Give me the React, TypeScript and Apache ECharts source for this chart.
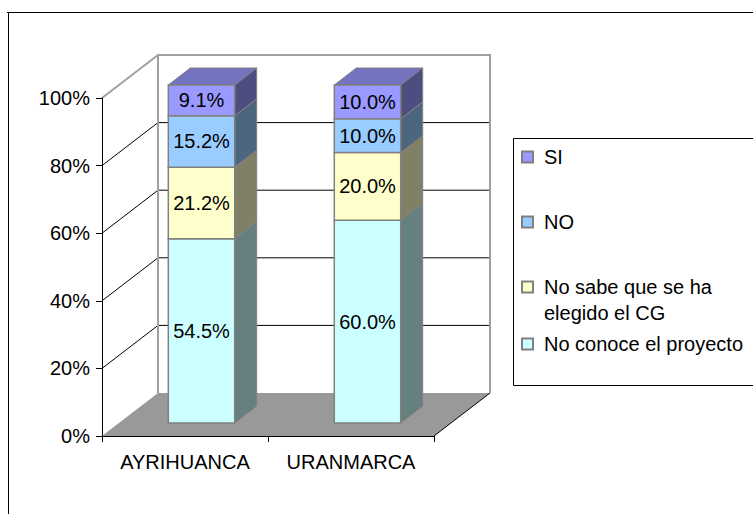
import React, { useEffect, useRef } from 'react';
import * as echarts from 'echarts';

// ---- data ----
const categories = ['AYRIHUANCA', 'URANMARCA'];
const noConoce = [54.5, 60.0];
const noSabe = [21.2, 20.0];
const noValues = [15.2, 10.0];
const siValues = [9.1, 10.0];
const yTicks = [0, 20, 40, 60, 80, 100];

const seriesNames = ['No conoce el proyecto', 'No sabe que se ha elegido el CG', 'NO', 'SI'];
const seriesValues = [noConoce, noSabe, noValues, siValues];

// ---- styles ----
const FONT = '"Liberation Sans", Arial, sans-serif';
const DEPTH: [number, number] = [56, -43];
const BAR_OFF: [number, number] = [16.5, -13];
const BAR_DEPTH: [number, number] = [22, -17];
const BAR_RATIO = 0.4;
const faceColors = [
  { front: '#CCFFFF', side: '#668080', top: '#99BFBF' },
  { front: '#FFFFCC', side: '#808066', top: '#BFBF99' },
  { front: '#99CCFF', side: '#4D6680', top: '#7399BF' },
  { front: '#9999FF', side: '#4D4D80', top: '#7373BF' },
];
const EDGE = '#808080';

export default function App() {
  const ref = useRef<HTMLDivElement>(null);

  useEffect(() => {
    if (!ref.current) return;
    const chart = echarts.init(ref.current, null, { renderer: 'svg' });

    const wallRender = (params: any, api: any) => {
      const cs = params.coordSys;
      const gx = cs.x;
      const gw = cs.width;
      const [dx, dy] = DEPTH;
      const yb = api.coord([0, 0])[1];
      const yt = api.coord([0, 100])[1];
      const children: any[] = [];
      children.push({
        type: 'polygon',
        shape: { points: [[gx, yb], [gx + gw, yb], [gx + gw + dx, yb + dy], [gx + dx, yb + dy]] },
        style: { fill: '#999999', stroke: null },
      });
      children.push({
        type: 'line',
        shape: { x1: gx + gw, y1: yb, x2: gx + gw + dx, y2: yb + dy },
        style: { stroke: '#000', lineWidth: 1 },
      });
      yTicks.forEach((v) => {
        const y = api.coord([0, v])[1];
        if (v > 0 && v < 100) {
          children.push({
            type: 'line',
            shape: { x1: gx, y1: y, x2: gx + dx, y2: y + dy },
            style: { stroke: '#000', lineWidth: 1 },
          });
          children.push({
            type: 'line',
            shape: { x1: gx + dx, y1: y + dy, x2: gx + gw + dx, y2: y + dy },
            style: { stroke: '#000', lineWidth: 1 },
          });
        }
      });
      children.push({
        type: 'line',
        shape: { x1: gx, y1: yt, x2: gx + dx, y2: yt + dy },
        style: { stroke: '#A0A0A0', lineWidth: 2 },
      });
      children.push({
        type: 'polyline',
        shape: {
          points: [
            [gx + dx, yb + dy],
            [gx + dx, yt + dy],
            [gx + gw + dx, yt + dy],
            [gx + gw + dx, yb + dy],
          ],
        },
        style: { stroke: '#A0A0A0', lineWidth: 2, fill: null },
      });
      return { type: 'group', children };
    };

    const makeBarRender = (idx: number) => (params: any, api: any) => {
      const cat = api.value(0);
      const s = api.value(1);
      const e = api.value(2);
      const v = api.value(3);
      const pb = api.coord([cat, s]);
      const pt = api.coord([cat, e]);
      const band = api.size([1, 0])[0];
      const w = band * BAR_RATIO;
      const x0 = pb[0] - w / 2 + BAR_OFF[0];
      const x1 = x0 + w;
      const y0 = pb[1] + BAR_OFF[1];
      const y1 = pt[1] + BAR_OFF[1];
      const [ddx, ddy] = BAR_DEPTH;
      const c = faceColors[idx];
      const children: any[] = [];
      if (idx === seriesValues.length - 1) {
        children.push({
          type: 'polygon',
          shape: { points: [[x0, y1], [x0 + ddx, y1 + ddy], [x1 + ddx, y1 + ddy], [x1, y1]] },
          style: { fill: c.top, stroke: EDGE, lineWidth: 1 },
        });
      }
      children.push({
        type: 'polygon',
        shape: { points: [[x1, y1], [x1 + ddx, y1 + ddy], [x1 + ddx, y0 + ddy], [x1, y0]] },
        style: { fill: c.side, stroke: EDGE, lineWidth: 1 },
      });
      children.push({
        type: 'rect',
        shape: { x: x0, y: y1, width: w, height: y0 - y1 },
        style: { fill: c.front, stroke: EDGE, lineWidth: 1.5 },
      });
      children.push({
        type: 'text',
        x: (x0 + x1) / 2,
        y: (y0 + y1) / 2,
        style: {
          text: v.toFixed(1) + '%',
          fill: '#000',
          fontSize: 20,
          fontFamily: FONT,
          align: 'center',
          verticalAlign: 'middle',
        },
      });
      return { type: 'group', children };
    };

    const barSeries = seriesValues.map((vals, idx) => {
      const data = vals.map((v, ci) => {
        let start = 0;
        for (let k = 0; k < idx; k++) start += seriesValues[k][ci];
        return [ci, start, start + v, v];
      });
      return {
        type: 'custom',
        name: seriesNames[idx],
        renderItem: makeBarRender(idx),
        itemStyle: { color: faceColors[idx].front, borderColor: EDGE, borderWidth: 1 },
        encode: { x: 0, y: [1, 2] },
        data,
        z: 3 + idx,
      };
    });

    const legendCenters = [157, 222, 287, 344];
    const legendOrder = ['SI', 'NO', 'No sabe que se ha elegido el CG', 'No conoce el proyecto'];
    const legends = legendOrder.map((name, i) => {
      const twoLine = name === 'No sabe que se ha elegido el CG';
      return {
        data: [name],
        orient: 'vertical',
        left: 521,
        top: twoLine ? legendCenters[i] - 39 : legendCenters[i] - 12,
        padding: 0,
        itemWidth: 11,
        itemHeight: 11,
        icon: 'rect',
        selectedMode: false,
        formatter: twoLine ? () => ' \nNo sabe que se ha\nelegido el CG' : undefined,
        textStyle: {
          fontSize: 20,
          fontFamily: FONT,
          color: '#000',
          lineHeight: twoLine ? 26 : 24,
          padding: [0, 0, 0, 6],
        },
      };
    });

    chart.setOption({
      animation: false,
      backgroundColor: '#fff',
      grid: { left: 102, top: 98, width: 332, height: 338 },
      xAxis: {
        type: 'category',
        data: categories,
        boundaryGap: true,
        z: 10,
        axisLine: { lineStyle: { color: '#000', width: 1 } },
        axisTick: { show: true, length: 6, alignWithLabel: false, interval: 0, lineStyle: { color: '#000' } },
        axisLabel: { fontSize: 20, fontFamily: FONT, color: '#000', margin: 16, interval: 0 },
        splitLine: { show: false },
      },
      yAxis: {
        type: 'value',
        min: 0,
        max: 100,
        interval: 20,
        z: 10,
        axisLine: { show: true, lineStyle: { color: '#000', width: 1 } },
        axisTick: { show: true, length: 6, lineStyle: { color: '#000' } },
        axisLabel: { fontSize: 20, fontFamily: FONT, color: '#000', margin: 12, formatter: '{value}%' },
        splitLine: { show: false },
      },
      legend: legends,
      graphic: [
        { type: 'line', shape: { x1: 7, y1: 12.5, x2: 753, y2: 12.5 }, style: { stroke: '#000', lineWidth: 1 } },
        { type: 'line', shape: { x1: 8.5, y1: 12, x2: 8.5, y2: 514 }, style: { stroke: '#000', lineWidth: 1 } },
        {
          type: 'rect',
          shape: { x: 513.5, y: 138.5, width: 300, height: 247 },
          style: { fill: null, stroke: '#000', lineWidth: 1 },
          z: -1,
        },
      ],
      series: [
        {
          type: 'custom',
          name: 'walls',
          renderItem: wallRender,
          data: [[0, 0]],
          encode: { x: 0, y: 1 },
          silent: true,
          z: 1,
        },
        ...barSeries,
      ],
    });

    return () => chart.dispose();
  }, []);

  return (
    <div
      ref={ref}
      style={{ position: 'absolute', left: 0, top: 0, width: 753, height: 514 }}
    />
  );
}
